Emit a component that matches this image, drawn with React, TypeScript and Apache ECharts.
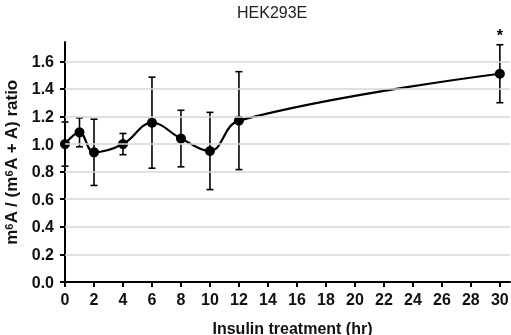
import React, { useEffect, useRef } from "react";
import * as echarts from "echarts";

const hours = [0, 1, 2, 4, 6, 8, 10, 12, 30];
const ratioMean = [1.0, 1.085, 0.94, 1.0, 1.155, 1.04, 0.95, 1.17, 1.51];
const ratioErr = [0.16, 0.105, 0.24, 0.077, 0.33, 0.205, 0.28, 0.355, 0.21];
const sigMarks = ["", "", "", "", "", "", "", "", "*"];
const xTicks = [0, 2, 4, 6, 8, 10, 12, 14, 16, 18, 20, 22, 24, 26, 28, 30];
const yTicks = [0, 0.2, 0.4, 0.6, 0.8, 1.0, 1.2, 1.4, 1.6];

const FONT = "'Liberation Sans', Arial, sans-serif";

export default function App() {
  const ref = useRef<HTMLDivElement>(null);
  useEffect(() => {
    if (!ref.current) return;
    const chart = echarts.init(ref.current, undefined, { renderer: "svg" });
    const lineData = hours.map((h, i) => [h, ratioMean[i]]);
    const errData = hours.map((h, i) => [h, ratioMean[i] - ratioErr[i], ratioMean[i] + ratioErr[i]]);
    chart.setOption({
      animation: false,
      textStyle: { fontFamily: FONT },
      title: {
        text: "HEK293E",
        left: 232,
        top: -1,
        textStyle: { fontFamily: FONT, fontSize: 16, fontWeight: "normal", color: "#222" },
      },
      grid: { left: 65, right: 1, top: 42, bottom: 53, containLabel: false, outerBoundsMode: "none" },
      xAxis: {
        type: "value",
        min: 0,
        max: 30.7,
        name: "Insulin treatment (hr)",
        nameLocation: "middle",
        nameGap: 38,
        nameTextStyle: { fontFamily: FONT, fontSize: 16, fontWeight: "bold", color: "#111", padding: [0, 0, 0, 10] },
        axisLine: { show: true, onZero: false, lineStyle: { color: "#000", width: 2 } },
        axisTick: { show: true, inside: false, length: 5, customValues: xTicks, lineStyle: { color: "#000", width: 2 } },
        axisLabel: { customValues: xTicks, margin: 9, fontFamily: FONT, fontSize: 16, fontWeight: "bold", color: "#111" },
        splitLine: { show: false },
      },
      yAxis: {
        type: "value",
        min: 0,
        max: 1.74,
        name: "m{sup|6}A / (m{sup|6}A + A) ratio",
        nameLocation: "middle",
        nameGap: 45,
        nameTextStyle: {
          fontFamily: FONT,
          fontSize: 17,
          fontWeight: "bold",
          color: "#111",
          rich: {
            sup: { fontFamily: FONT, fontSize: 11, fontWeight: "bold", color: "#111", verticalAlign: "top", padding: [0, 0, 6, 0] },
          },
        },
        axisLine: { show: true, onZero: false, lineStyle: { color: "#000", width: 2 } },
        axisTick: { show: true, inside: false, length: 5, customValues: yTicks, lineStyle: { color: "#000", width: 2 } },
        axisLabel: {
          customValues: yTicks,
          margin: 11,
          formatter: (v: number) => v.toFixed(1),
          fontFamily: FONT,
          fontSize: 16,
          fontWeight: "bold",
          color: "#111",
        },
        splitLine: { show: false },
      },
      series: [
        {
          type: "line",
          data: [],
          z: 1,
          silent: true,
          markLine: {
            silent: true,
            symbol: "none",
            label: { show: false },
            lineStyle: { color: "#d6d6d6", width: 1.5, type: "solid" },
            data: yTicks.filter((v) => v > 0).map((v) => ({ yAxis: v })),
          },
        },
        {
          type: "custom",
          z: 3,
          data: errData,
          renderItem: (params: any, api: any) => {
            const x = api.value(0);
            const lo = api.coord([x, api.value(1)]);
            const hi = api.coord([x, api.value(2)]);
            const w = 3.5;
            const st = { stroke: "#000", lineWidth: 1.6 };
            const children: any[] = [
              { type: "line", shape: { x1: hi[0], y1: hi[1], x2: lo[0], y2: lo[1] }, style: st },
              { type: "line", shape: { x1: hi[0] - w, y1: hi[1], x2: hi[0] + w, y2: hi[1] }, style: st },
              { type: "line", shape: { x1: lo[0] - w, y1: lo[1], x2: lo[0] + w, y2: lo[1] }, style: st },
            ];
            const mark = sigMarks[params.dataIndex];
            if (mark) {
              children.push({
                type: "text",
                style: {
                  text: mark,
                  x: hi[0],
                  y: hi[1] - 1,
                  align: "center",
                  verticalAlign: "bottom",
                  fontFamily: FONT,
                  fontSize: 16,
                  fontWeight: "bold",
                  fill: "#000",
                },
              });
            }
            return { type: "group", children };
          },
        },
        {
          type: "line",
          z: 4,
          data: lineData,
          smooth: 0.4,
          symbol: "circle",
          symbolSize: 10,
          lineStyle: { color: "#000", width: 2.2 },
          itemStyle: { color: "#000" },
        },
      ],
    });
    return () => chart.dispose();
  }, []);
  return <div ref={ref} style={{ position: "fixed", left: 0, top: 0, width: 511, height: 335 }} />;
}
